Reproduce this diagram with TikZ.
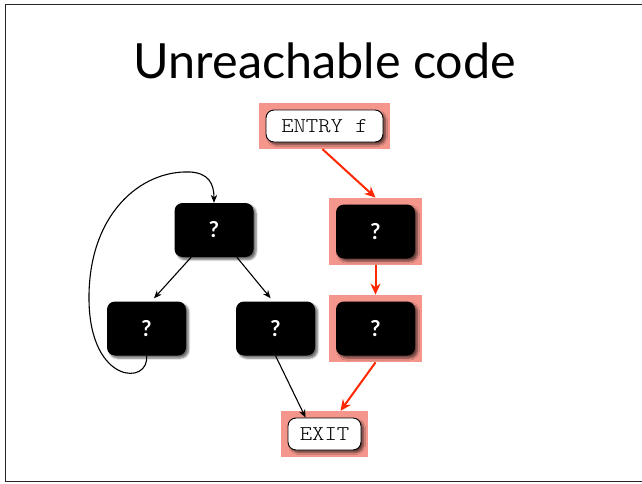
\documentclass[tikz,border=0pt]{standalone}
\usepackage{fontspec}
\setmainfont{Lato}
\newfontfamily\monof{Latin Modern Mono Light}[FakeStretch=1.12]
\usetikzlibrary{arrows.meta,shadows.blur,fit,backgrounds,calc}
\definecolor{hlsalmon}{RGB}{244,150,140}
\definecolor{flowred}{RGB}{255,40,0}
\tikzset{
  blk/.style={fill=black, rounded corners=8pt, minimum width=79pt, minimum height=54pt,
    text=white, font=\fontsize{22}{22}\selectfont\bfseries,
    blur shadow={shadow xshift=2.5pt, shadow yshift=-2.5pt, shadow blur steps=6, shadow opacity=60}},
  wht/.style={draw=black, line width=0.9pt, fill=white, rounded corners=8pt, inner sep=0pt,
    font=\monof\fontsize{21}{21}\selectfont,
    blur shadow={shadow xshift=2.5pt, shadow yshift=-2.5pt, shadow blur steps=6, shadow opacity=60}},
  hl/.style={fill=hlsalmon, inner sep=6.5pt},
  bedge/.style={line width=1.1pt, -{Stealth[length=8pt,width=6.5pt]}},
  redge/.style={line width=2pt, draw=flowred, -{Stealth[length=11pt,width=10pt]}},
}
\begin{document}
\begin{tikzpicture}[x=1pt,y=-1pt]
\useasboundingbox (0,0) rectangle (642,484);
% slide frame
\draw[line width=1.2pt, black!85] (645,4.5) -- (5.5,4.5) -- (5.5,481.5) -- (645,481.5);
% title
\node[anchor=base, font=\fontsize{48.5}{48.5}\selectfont] (title) at (325,79) {Unreachable code};

% nodes
\node[wht, minimum width=117pt, minimum height=32pt] (entry) at (324.5,126) {ENTRY f};
\node[blk] (r1) at (375.5,231.5) {?};
\node[blk] (r2) at (375.5,328.5) {?};
\node[blk] (tl) at (214,230) {?};
\node[blk] (bl) at (146.5,328.5) {?};
\node[blk] (bm) at (275.5,328.5) {?};
\node[wht, minimum width=73pt, minimum height=32pt] (exit) at (324.5,434) {EXIT};

% highlighted path
\begin{scope}[on background layer]
  \node[hl, fit=(entry)] (hlentry) {};
  \node[hl, fit=(r1)] (hlr1) {};
  \node[hl, fit=(r2)] (hlr2) {};
  \node[hl, fit=(exit)] (hlexit) {};
\end{scope}

% edges
\draw[redge] ($(hlentry.south)+(-2,0)$) -- (hlr1.north);
\draw[redge] (hlr1.south) -- (hlr2.north);
\draw[redge] (hlr2.south) -- ($(hlexit.north)+(16,0)$);
\draw[bedge, shorten >=4pt] (tl.-130) -- (bl.80);
\draw[bedge, shorten >=4pt] (tl.-50) -- (bm.95);
\draw[bedge] (bm.south) -- ($(exit.north west)+(18,0)$);
\draw[bedge] (bl.south) .. controls (150,385) and (90,385) .. (89,300)
  .. controls (88,215) and (140,170) .. (190,172)
  .. controls (208,173) and (214,183) .. (tl.north);
\end{tikzpicture}
\end{document}
